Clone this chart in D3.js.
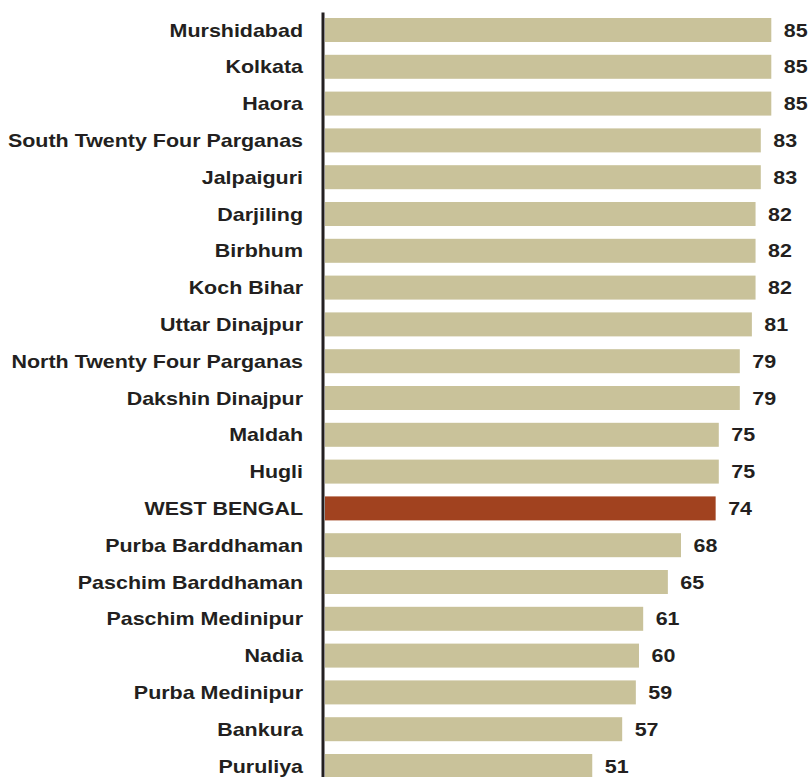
<!DOCTYPE html>
<html>
<head>
<meta charset="utf-8">
<script src="https://cdn.jsdelivr.net/npm/d3@7"></script>
<style>
    html, body { margin: 0; padding: 0; background: #ffffff; }
    svg { display: block; }
</style>
</head>
<body>
<svg width="811" height="777"></svg>
<script>
const districts = [
    "Murshidabad", "Kolkata", "Haora", "South Twenty Four Parganas", "Jalpaiguri",
    "Darjiling", "Birbhum", "Koch Bihar", "Uttar Dinajpur", "North Twenty Four Parganas",
    "Dakshin Dinajpur", "Maldah", "Hugli", "WEST BENGAL", "Purba Barddhaman",
    "Paschim Barddhaman", "Paschim Medinipur", "Nadia", "Purba Medinipur", "Bankura", "Puruliya"
];
const values = [
    85.0, 85.0, 85.0, 83.0, 83.0,
    82.0, 82.0, 82.0, 81.3, 79.0,
    79.0, 75.0, 75.0, 74.4, 67.8,
    65.3, 60.6, 59.8, 59.2, 56.6, 50.9
];
const stateName = "WEST BENGAL";

const data = districts.map((d, i) => ({ name: d, value: values[i] }));

const svg = d3.select("svg");
const attrArea = { axisX: 322.5, barX: 325, barMaxX: 771.3, top: 12, bottom: 784 };
const textStretch = 1.16;

const scaleY = d3.scaleBand()
    .domain(districts)
    .range([attrArea.top, attrArea.bottom])
    .paddingInner(0.348)
    .paddingOuter(0.163);

const scaleX = d3.scaleLinear()
    .domain([0, 85])
    .range([attrArea.barX, attrArea.barMaxX]);

// bars
svg.selectAll(".bar")
    .data(data)
    .enter()
    .append("rect")
    .attr("class", "bar")
    .attr("x", scaleX(0))
    .attr("y", (d) => scaleY(d.name))
    .attr("width", (d) => scaleX(d.value) - scaleX(0))
    .attr("height", scaleY.bandwidth())
    .style("fill", (d) => d.name === stateName ? "#a1421f" : "#c9c29a");

// value labels
svg.selectAll(".val")
    .data(data)
    .enter()
    .append("text")
    .attr("class", "val")
    .attr("transform", (d) =>
        `translate(${scaleX(d.value) + 12.5}, ${scaleY(d.name) + scaleY.bandwidth() / 2}) scale(${textStretch},1)`)
    .attr("dy", "0.36em")
    .style("font-family", "'Liberation Sans', Arial, sans-serif")
    .style("font-weight", "bold")
    .style("font-size", "18.5px")
    .style("fill", "#231f20")
    .text((d) => d3.format(".0f")(d.value));

// category axis
const axisY = d3.axisLeft(scaleY).tickSize(0).tickSizeOuter(0);
const gAxis = svg.append("g")
    .attr("transform", `translate(${attrArea.axisX}, 0)`)
    .call(axisY);

gAxis.select(".domain")
    .attr("stroke", "#231f20")
    .attr("stroke-width", 3);

gAxis.selectAll("text")
    .attr("x", 0)
    .attr("dy", "0.36em")
    .attr("transform", `translate(-19.5, 0) scale(${textStretch},1)`)
    .style("text-anchor", "end")
    .style("font-family", "'Liberation Sans', Arial, sans-serif")
    .style("font-weight", "bold")
    .style("font-size", "18.5px")
    .style("fill", "#231f20");
</script>
</body>
</html>
